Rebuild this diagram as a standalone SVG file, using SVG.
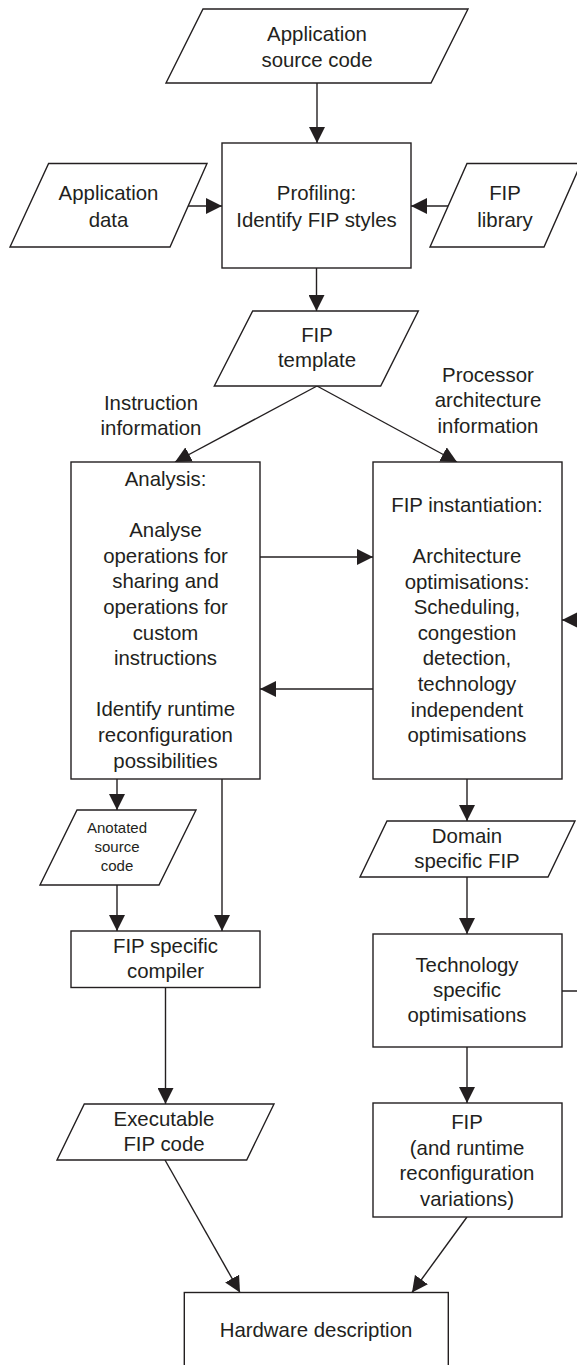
<svg xmlns="http://www.w3.org/2000/svg" width="577" height="1365" viewBox="0 0 577 1365">
<style>
.s{fill:#fff;stroke:#231f20;stroke-width:1.4}
.t{font-family:"Liberation Sans",Arial,sans-serif;font-size:20.4px;fill:#231f20;text-anchor:middle}
.sm{font-size:15px}
.c{fill:none;stroke:#231f20;stroke-width:1.4}
</style>
<defs>
<marker id="a" markerUnits="userSpaceOnUse" markerWidth="16" markerHeight="16" refX="16" refY="8" orient="auto">
<path d="M0,0 L16,8 L0,16 z" fill="#231f20"/>
</marker>
</defs>
<rect width="577" height="1365" fill="#fff"/>
<g id="connectors">
<line class="c" x1="317" y1="83" x2="317" y2="143" marker-end="url(#a)"/>
<line class="c" x1="188" y1="206" x2="222" y2="206" marker-end="url(#a)"/>
<line class="c" x1="448" y1="206" x2="411" y2="206" marker-end="url(#a)"/>
<line class="c" x1="316.5" y1="268" x2="316.5" y2="311" marker-end="url(#a)"/>
<line class="c" x1="317" y1="386" x2="175" y2="462" marker-end="url(#a)"/>
<line class="c" x1="317" y1="386" x2="457" y2="462" marker-end="url(#a)"/>
<line class="c" x1="260" y1="557" x2="373" y2="557" marker-end="url(#a)"/>
<line class="c" x1="373" y1="689" x2="260" y2="689" marker-end="url(#a)"/>
<line class="c" x1="595" y1="620" x2="562" y2="620" marker-end="url(#a)"/>
<line class="c" x1="117" y1="779" x2="117" y2="810" marker-end="url(#a)"/>
<line class="c" x1="222" y1="779" x2="222" y2="931" marker-end="url(#a)"/>
<line class="c" x1="117" y1="885" x2="117" y2="931" marker-end="url(#a)"/>
<line class="c" x1="165.5" y1="987.5" x2="165.5" y2="1104" marker-end="url(#a)"/>
<line class="c" x1="467" y1="779" x2="467" y2="821" marker-end="url(#a)"/>
<line class="c" x1="467" y1="877" x2="467" y2="934" marker-end="url(#a)"/>
<line class="c" x1="562" y1="991" x2="595" y2="991"/>
<line class="c" x1="467" y1="1047" x2="467" y2="1103" marker-end="url(#a)"/>
<line class="c" x1="165" y1="1160" x2="240" y2="1292.5" marker-end="url(#a)"/>
<line class="c" x1="467" y1="1217" x2="412" y2="1292.5" marker-end="url(#a)"/>
</g>
<g id="app-source">
<polygon class="s" points="203,9 468,9 431,83 166,83"/>
<text class="t" x="317" y="41">Application</text>
<text class="t" x="317" y="67">source code</text>
</g>
<g id="app-data">
<polygon class="s" points="48.6,163.5 207,163.5 170,247 10,247"/>
<text class="t" x="108.5" y="199.5">Application</text>
<text class="t" x="108.5" y="226.5">data</text>
</g>
<g id="profiling">
<rect class="s" x="222" y="143" width="189" height="125"/>
<text class="t" x="316.5" y="200">Profiling:</text>
<text class="t" x="316.5" y="226.7">Identify FIP styles</text>
</g>
<g id="fip-library">
<polygon class="s" points="467,163.5 581,163.5 544,247 430,247"/>
<text class="t" x="505" y="200">FIP</text>
<text class="t" x="505" y="226.7">library</text>
</g>
<g id="fip-template">
<polygon class="s" points="252.7,311 418.3,311 380.7,386 214.3,386"/>
<text class="t" x="317" y="341.7">FIP</text>
<text class="t" x="317" y="366.7">template</text>
</g>
<g id="label-instruction">
<text class="t" x="151" y="410">Instruction</text>
<text class="t" x="151" y="435">information</text>
</g>
<g id="label-processor">
<text class="t" x="488" y="381.7">Processor</text>
<text class="t" x="488" y="407.3">architecture</text>
<text class="t" x="488" y="433">information</text>
</g>
<g id="analysis">
<rect class="s" x="71" y="462" width="189" height="317"/>
<text class="t" x="165.5" y="486">Analysis:</text>
<text class="t" x="165.5" y="537.2">Analyse</text>
<text class="t" x="165.5" y="562.8">operations for</text>
<text class="t" x="165.5" y="588.4">sharing and</text>
<text class="t" x="165.5" y="614">operations for</text>
<text class="t" x="165.5" y="639.6">custom</text>
<text class="t" x="165.5" y="665.2">instructions</text>
<text class="t" x="165.5" y="716.4">Identify runtime</text>
<text class="t" x="165.5" y="742">reconfiguration</text>
<text class="t" x="165.5" y="767.6">possibilities</text>
</g>
<g id="fip-instantiation">
<rect class="s" x="373" y="462" width="189" height="317"/>
<text class="t" x="467" y="511.7">FIP instantiation:</text>
<text class="t" x="467" y="563">Architecture</text>
<text class="t" x="467" y="588.6">optimisations:</text>
<text class="t" x="467" y="614.2">Scheduling,</text>
<text class="t" x="467" y="639.8">congestion</text>
<text class="t" x="467" y="665.4">detection,</text>
<text class="t" x="467" y="691">technology</text>
<text class="t" x="467" y="716.6">independent</text>
<text class="t" x="467" y="742.2">optimisations</text>
</g>
<g id="annotated">
<polygon class="s" points="77,810 196,810 159,885 40,885"/>
<text class="t sm" x="117" y="833">Anotated</text>
<text class="t sm" x="117" y="852">source</text>
<text class="t sm" x="117" y="871">code</text>
</g>
<g id="compiler">
<rect class="s" x="71" y="931" width="189" height="56.5"/>
<text class="t" x="165.5" y="952.7">FIP specific</text>
<text class="t" x="165.5" y="978.3">compiler</text>
</g>
<g id="domain-fip">
<polygon class="s" points="387,821 575,821 548,877 360,877"/>
<text class="t" x="467" y="842.7">Domain</text>
<text class="t" x="467" y="868.3">specific FIP</text>
</g>
<g id="tech-opt">
<rect class="s" x="373" y="934" width="189" height="113"/>
<text class="t" x="467" y="971.7">Technology</text>
<text class="t" x="467" y="996.9">specific</text>
<text class="t" x="467" y="1022">optimisations</text>
</g>
<g id="executable">
<polygon class="s" points="84.3,1104 274,1104 246.7,1160 57,1160"/>
<text class="t" x="164" y="1126">Executable</text>
<text class="t" x="164" y="1150.5">FIP code</text>
</g>
<g id="fip-variations">
<rect class="s" x="373" y="1103" width="189" height="114"/>
<text class="t" x="467" y="1129.3">FIP</text>
<text class="t" x="467" y="1154.7">(and runtime</text>
<text class="t" x="467" y="1180.1">reconfiguration</text>
<text class="t" x="467" y="1205.5">variations)</text>
</g>
<g id="hardware">
<rect class="s" x="184.3" y="1292.5" width="264" height="100"/>
<text class="t" x="316" y="1336.7">Hardware description</text>
</g>
</svg>
